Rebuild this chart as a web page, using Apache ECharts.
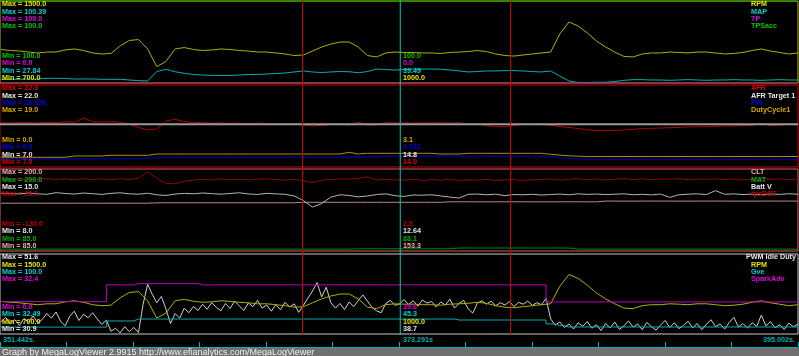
<!DOCTYPE html>
<html><head><meta charset="utf-8">
<script src="https://cdn.jsdelivr.net/npm/echarts@6/dist/echarts.min.js"></script>
<style>html,body{margin:0;padding:0;background:#000;}#c{width:799px;height:356px;}</style>
</head><body><div id="c"></div>
<script>
// ---------- time ----------
const tStart = 351.442, tEnd = 395.002, tCursor = 373.291;
const tMarkers = [367.955, 379.31];
const tFlat = [351.442, 395.002];
const timeFine = [351.5,351.75,352,352.25,352.5,352.75,353,353.25,353.5,353.75,354,354.25,354.5,354.75,355,355.25,355.5,355.75,356,356.25,356.5,356.75,357,357.25,357.5,357.75,358,358.25,358.5,358.75,359,359.25,359.5,359.75,360,360.25,360.5,360.75,361,361.25,361.5,361.75,362,362.25,362.5,362.75,363,363.25,363.5,363.75,364,364.25,364.5,364.75,365,365.25,365.5,365.75,366,366.25,366.5,366.75,367,367.25,367.5,367.75,368,368.25,368.5,368.75,369,369.25,369.5,369.75,370,370.25,370.5,370.75,371,371.25,371.5,371.75,372,372.25,372.5,372.75,373,373.25,373.5,373.75,374,374.25,374.5,374.75,375,375.25,375.5,375.75,376,376.25,376.5,376.75,377,377.25,377.5,377.75,378,378.25,378.5,378.75,379,379.25,379.5,379.75,380,380.25,380.5,380.75,381,381.25,381.5,381.75,382,382.25,382.5,382.75,383,383.25,383.5,383.75,384,384.25,384.5,384.75,385,385.25,385.5,385.75,386,386.25,386.5,386.75,387,387.25,387.5,387.75,388,388.25,388.5,388.75,389,389.25,389.5,389.75,390,390.25,390.5,390.75,391,391.25,391.5,391.75,392,392.25,392.5,392.75,393,393.25,393.5,393.75,394,394.25,394.5,394.75,395];
const timeCoarse = timeFine.filter((_, i) => i % 2 === 0);

// ---------- panel 1 ----------
const rpm = [1027,1017,1012,1002,993,1002,1002,1022,1032,1017,
 993,983,988,1061,1115,1124,1032,860,910,1032,
 1046,1027,1017,1022,1032,1027,1017,1012,1002,1002,
 993,983,968,973,1012,1051,1080,1100,1100,1051,
 968,954,993,1002,998,998,993,993,988,998,
 1002,1007,1017,1007,983,968,963,973,983,993,
 1002,1178,1295,1256,1188,1110,1051,1002,959,954,
 983,993,993,1002,998,993,1002,1002,993,983,
 988,998,1017,1032,1012,998,983,993];
const map = [31.1,31.1,31.1,31.4,31.4,32.0,32.0,31.8,31.4,31.4,
 31.4,31.1,31.1,31.1,30.5,29.9,29.6,38.0,40.0,37.8,
 36.4,35.4,34.9,34.6,34.5,34.5,34.9,35.4,35.4,35.8,
 36.2,36.7,37.6,38.5,37.6,37.1,37.6,38.0,37.8,36.9,
 38.0,40.2,39.8,39.3,39.8,40.2,40.2,40.2,40.0,39.3,
 38.5,37.6,38.0,38.5,38.5,38.8,38.8,38.5,38.0,37.6,
 38.5,34.0,29.6,28.3,28.3,28.5,28.5,29.2,30.2,30.8,
 30.8,30.5,30.5,30.2,30.5,30.8,30.5,30.2,30.5,30.5,
 30.8,30.5,30.5,30.2,30.5,30.8,30.5,30.5];
const tp = [0, 0];
const tpsAcc = [100, 100];

// ---------- panel 2 ----------
const afr = [15.10,15.01,15.14,15.10,15.05,15.18,15.10,15.29,15.18,15.96,
 15.29,15.23,15.29,15.18,14.81,14.26,13.77,13.95,15.41,15.73,
 15.29,15.18,15.10,14.99,15.10,14.96,15.05,14.92,15.05,14.87,
 14.96,14.81,14.87,14.68,14.50,14.59,14.77,14.87,14.68,15.18,
 14.68,14.74,15.10,15.05,15.10,14.99,15.10,15.05,15.10,14.99,
 15.10,14.81,14.87,14.55,14.37,14.37,14.63,14.81,14.74,14.81,
 14.63,14.41,14.23,14.04,13.83,13.64,13.71,13.64,13.77,13.90,
 14.01,14.08,14.13,14.19,14.26,14.32,14.37,14.37,14.45,14.50,
 14.50,14.55,14.63,14.99,14.55,14.68,14.81,14.74];
const afrTarget = [14.8, 14.8];
const pw = [2.87,2.87,2.87,2.87,2.87,2.87,2.87,2.87,2.87,2.87,
 2.87,2.87,2.87,2.87,2.87,2.87,2.87,3.40,3.40,3.40,
 3.40,3.40,3.40,3.40,3.40,3.40,3.40,3.40,3.40,3.40,
 3.40,3.40,3.40,3.40,3.40,3.40,3.40,3.40,3.40,3.46,
 3.46,3.75,3.75,3.75,3.75,3.75,3.75,3.75,3.75,3.75,
 3.75,3.75,3.75,3.75,3.75,3.75,3.75,3.75,3.75,3.75,
 3.60,3.30,3.00,2.80,2.70,2.66,2.66,2.66,2.66,2.66,
 2.66,2.66,2.66,2.66,2.66,2.66,2.66,2.66,2.66,2.66,
 2.66,2.66,2.66,2.66,2.66,2.66,2.66,2.66];
const duty = [2.25,2.25,2.25,2.25,2.25,2.25,2.25,2.25,2.55,2.55,
 2.55,2.55,2.71,2.71,2.71,2.71,2.71,3.01,3.01,3.01,
 3.01,3.01,3.01,3.01,3.01,3.01,3.01,3.01,3.01,3.01,
 3.01,3.01,3.01,3.01,3.01,3.01,3.01,3.01,3.41,3.01,
 3.17,3.17,3.17,3.17,3.17,3.17,3.17,3.17,3.01,3.01,
 3.01,3.17,3.17,3.17,3.17,3.17,3.17,3.17,3.17,3.17,
 2.95,2.75,2.60,2.50,2.43,2.43,2.43,2.43,2.43,2.43,
 2.43,2.43,2.43,2.43,2.43,2.43,2.43,2.43,2.43,2.43,
 2.43,2.43,2.43,2.43,2.43,2.43,2.43,2.43];

// ---------- panel 3 ----------
const clt = [152.0,152.0,152.0,152.0,152.0,152.0,152.0,152.0,152.0,152.0,
 152.0,152.0,152.0,152.0,152.0,152.0,152.0,152.6,152.6,152.6,
 152.6,152.6,152.6,152.6,152.6,152.6,152.6,152.6,152.6,152.6,
 152.6,152.6,152.6,153.3,153.3,153.3,153.3,153.3,153.3,153.3,
 153.3,153.3,153.3,153.3,153.3,153.3,153.3,153.3,153.3,154.0,
 154.0,154.0,154.0,154.0,154.0,154.0,154.0,154.0,154.0,154.0,
 154.0,154.0,154.0,154.0,154.0,154.0,155.0,155.0,155.0,155.0,
 155.0,155.0,155.0,155.0,155.0,155.0,155.0,155.0,155.0,155.0,
 155.0,155.0,155.0,155.0,155.0,155.0,155.0,155.0];
const mat = [87.6,87.6,87.6,87.6,87.6,87.6,87.6,87.6,87.6,87.6,
 87.6,87.6,87.6,87.6,87.6,87.6,87.6,87.6,87.6,87.6,
 87.6,87.6,87.6,87.6,87.6,87.6,87.6,87.6,87.6,87.6,
 87.6,87.6,87.6,87.6,87.6,87.6,87.6,87.6,87.6,88.1,
 88.1,88.1,88.1,88.1,88.1,88.1,88.1,88.1,88.1,88.1,
 89.2,89.2,89.2,89.2,89.2,89.2,89.2,89.2,89.2,89.2,
 89.2,89.2,89.2,87.6,87.6,87.6,87.6,87.6,87.6,87.6,
 87.6,87.6,87.6,87.6,87.6,87.6,87.6,87.6,87.6,87.6,
 87.6,87.6,87.6,87.6,87.6,87.6,87.6,87.6];
const battV = [12.93,12.90,12.87,12.95,12.88,12.84,12.98,12.91,12.86,12.95,
 12.89,12.83,12.92,12.97,12.88,12.85,12.93,12.80,12.74,12.86,
 12.92,12.88,12.95,12.90,12.85,12.91,12.97,12.87,12.83,12.92,
 12.88,12.84,12.70,12.30,11.75,12.05,12.60,12.80,12.74,12.62,
 12.70,12.82,12.88,12.72,12.66,12.78,12.76,12.80,12.70,12.60,
 12.52,12.84,12.86,12.80,12.85,12.72,12.82,12.80,12.84,12.78,
 12.82,12.86,12.80,12.88,12.83,12.86,12.82,12.85,12.88,12.80,
 12.84,12.79,12.86,12.58,12.80,12.85,12.88,12.82,13.15,12.84,
 12.88,12.82,12.86,12.80,12.87,12.83,12.89,12.84];
const tpsDot = [4.3,3.1,4.8,2.6,3.9,5.2,3.4,4.5,2.9,5.0,
 3.6,4.4,2.8,4.9,3.3,6.0,17.5,6.0,-4.0,-4.5,
 0.5,2.5,3.8,2.4,4.6,3.0,4.1,2.7,3.9,4.8,
 3.2,2.5,3.6,1.0,-2.0,2.0,3.4,4.4,4.3,5.0,
 8.6,2.5,3.5,2.8,2.0,3.6,1.8,3.2,2.4,3.9,
 1.5,3.0,2.2,3.7,1.9,2.8,3.4,1.6,2.9,3.3,
 4.1,2.6,3.8,4.9,3.0,4.4,2.7,4.0,5.1,3.3,
 4.6,2.9,4.2,3.6,5.0,2.8,4.3,3.5,4.7,3.1,
 4.4,2.6,3.9,5.2,3.4,4.6,3.0,4.3];

// ---------- panel 4 ----------
const pwmIdle = [34.0,35.2,33.5,34.6,33.1,34.9,34.0,35.6,33.8,34.7,
 36.2,35.0,36.6,34.2,33.0,35.5,36.8,34.4,36.0,35.1,
 36.4,34.8,33.4,34.5,31.6,32.4,31.2,32.8,31.5,32.6,
 31.3,38.5,43.8,41.2,39.0,40.6,37.4,33.6,36.2,35.0,
 37.6,36.4,38.0,37.0,38.6,37.3,39.0,37.8,36.9,38.8,
 37.5,39.4,38.2,37.0,38.9,38.0,39.6,37.6,38.4,36.8,
 38.5,37.2,39.1,37.9,38.7,36.5,38.3,40.2,42.0,44.2,
 40.5,43.0,39.0,37.6,38.8,37.2,39.2,38.0,39.6,41.0,
 39.4,37.8,36.9,36.4,38.8,39.6,38.3,38.7,39.8,38.5,
 39.5,38.1,39.7,38.9,39.3,37.9,39.2,38.4,39.9,37.6,
 38.8,39.6,37.4,36.3,38.9,39.5,38.6,39.4,38.2,39.0,
 38.4,39.3,38.0,39.1,38.6,39.4,38.3,39.0,38.5,40.1,
 34.8,33.2,34.0,32.6,33.5,32.2,33.8,32.9,34.1,32.4,
 33.3,31.8,33.6,32.5,34.0,32.1,33.0,34.3,32.7,33.5,
 32.0,33.9,32.8,31.9,33.2,34.4,32.6,33.8,32.3,33.1,
 34.2,32.5,33.6,32.0,33.4,34.6,32.8,33.5,32.2,33.9,
 35.2,32.7,33.6,32.4,33.8,32.9,35.8,33.0,34.1,32.5,
 33.3,32.1,33.7,32.8,33.4];
const gve = [38.3,38.3,38.3,38.3,38.3,38.3,38.3,38.3,38.3,38.3,
 38.3,38.3,43.5,43.5,43.5,45.1,45.1,45.1,45.1,45.1,
 45.1,45.1,45.1,45.1,45.1,45.1,45.1,45.1,45.1,45.1,
 45.1,45.1,45.1,45.1,45.1,45.1,45.1,45.1,45.1,45.1,
 45.1,45.1,45.1,45.1,45.1,45.1,45.1,45.1,45.1,45.1,
 44.3,44.3,44.3,44.3,44.3,44.3,44.3,44.3,44.3,44.3,
 41.0,39.5,38.4,38.4,38.4,38.4,38.4,38.4,38.4,38.4,
 38.4,38.4,38.4,38.4,38.4,38.4,38.4,38.4,38.4,38.4,
 38.4,38.4,38.4,38.4,38.4,38.4,38.4,38.4];
const sparkAdv = [13.1,13.1,13.1,13.1,13.1,13.1,13.1,13.1,13.1,13.1,
 13.1,13.1,19.9,19.9,19.9,20.4,20.4,20.4,20.4,20.4,
 20.4,20.4,19.9,19.9,19.9,19.9,19.9,19.9,19.9,19.9,
 19.9,19.9,19.9,19.9,19.9,19.9,19.9,19.9,19.9,19.9,
 19.9,19.9,19.9,19.9,19.9,19.9,19.9,19.9,19.9,19.9,
 19.9,19.9,19.9,19.9,19.9,19.9,19.9,19.9,19.9,19.9,
 13.0,13.0,13.0,13.0,13.0,13.0,13.0,13.0,13.0,13.0,
 13.0,13.0,13.0,13.0,13.0,13.0,13.0,13.0,13.0,13.0,
 13.0,13.0,13.0,13.0,13.0,13.0,13.0,13.0];

// ---------- texts ----------
const legendNames = [['RPM','MAP','TP','TPSacc'],['AFR','AFR Target 1','PW','DutyCycle1'],['CLT','MAT','Batt V','tpsDOT'],['PWM Idle Duty','RPM','Gve','SparkAdv']];
const maxTexts = [['1500.0','100.39','100.0','100.0'],['22.0','22.0','28.336','19.0'],['200.0','200.0','15.0','23.0'],['51.6','1500.0','100.0','32.4']];
const minTexts = [['700.0','27.84','0.0','100.0'],['7.0','7.0','0.0','0.0'],['85.0','85.0','8.0','-130.0'],['30.9','700.0','32.49','0.0']];
const cursorTexts = [['1000.0','39.49','0.0','100.0'],['14.9','14.8','3.721','3.1'],['153.3','88.1','12.64','2.0'],['38.7','1000.0','45.3','19.6']];
const timeLabels = ['351.442s.','373.291s','395.002s.'];
const footer = 'Graph by MegaLogViewer 2.9915 http://www.efianalytics.com/MegaLogViewer';

// ---------- layout / style ----------
const C = {
  yel:  {line:'#b0b000', text:'#e6e600'},
  cyan: {line:'#00b0b0', text:'#00d4d4'},
  mag:  {line:'#c000c0', text:'#e000e0'},
  grn:  {line:'#00c000', text:'#00c800'},
  red:  {line:'#b40000', text:'#e00000'},
  wht:  {line:'#9a9a9a', text:'#e6e6e6'},
  blu:  {line:'#0000c8', text:'#0000e8'},
  gold: {line:'#b08c00', text:'#d8a800'},
  pink: {line:'#c08888', text:'#f0a8a8'},
  mgrn: {line:'#008c00', text:'#00b000'},
  bat:  {line:'#b4b4b4', text:'#e6e6e6'},
  dred: {line:'#980000', text:'#c00000'},
  pwm:  {line:'#d0d0d0', text:'#e6e6e6'}
};
const panels = [
  {top:1, height:82, border:'#b8b800', s:[
    {t:timeCoarse, v:rpm, min:700, max:1500, c:C.yel},
    {t:timeCoarse, v:map, min:27.84, max:100.39, c:C.cyan},
    {t:tFlat, v:tp, min:0, max:100, c:C.mag},
    {t:tFlat, v:tpsAcc, min:0, max:100, c:C.grn}]},
  {top:85, height:82, border:'#c80000', s:[
    {t:timeCoarse, v:afr, min:7, max:22, c:C.red},
    {t:tFlat, v:afrTarget, min:7, max:22, c:C.wht, w:2},
    {t:timeCoarse, v:pw, min:0, max:28.336, c:C.blu},
    {t:timeCoarse, v:duty, min:0, max:19, c:C.gold}]},
  {top:169, height:82, border:'#d06060', s:[
    {t:timeCoarse, v:clt, min:85, max:200, c:C.pink},
    {t:timeCoarse, v:mat, min:85, max:200, c:C.mgrn},
    {t:timeCoarse, v:battV, min:8, max:15, c:C.bat},
    {t:timeCoarse, v:tpsDot, min:-130, max:23, c:C.dred}]},
  {top:254, height:80, border:'#c8c8c8', s:[
    {t:timeFine, v:pwmIdle, min:30.9, max:51.6, c:C.pwm},
    {t:timeCoarse, v:rpm, min:700, max:1500, c:C.yel},
    {t:timeCoarse, v:gve, min:32.49, max:100, c:C.cyan, step:'middle'},
    {t:timeCoarse, v:sparkAdv, min:0, max:32.4, c:C.mag, step:'middle'}]}
];
const FONT = 'bold 7.2px "Liberation Sans", Arial, sans-serif';
const FOOT_FONT = '9px "Liberation Sans", Arial, sans-serif';
const LH = 7.4;

const grids = [], xAxes = [], yAxes = [], series = [], elements = [];
function txt(text, x, y, fill, font) {
  elements.push({type:'text', silent:true, z:100,
    style:{text, x, y, fill, font:font||FONT, textAlign:'left', textVerticalAlign:'middle'}});
}
panels.forEach((p, pi) => {
  grids.push({left:0, right:1, top:p.top, height:p.height, show:true, borderColor:p.border, borderWidth:1, backgroundColor:'transparent'});
  xAxes.push({type:'value', gridIndex:pi, min:tStart, max:tEnd, show:false});
  p.s.forEach((s, si) => {
    const yi = yAxes.length;
    yAxes.push({type:'value', gridIndex:pi, min:s.min, max:s.max, show:false});
    series.push({type:'line', xAxisIndex:pi, yAxisIndex:yi, silent:true, symbol:'none', showSymbol:false,
      step:s.step||false, data:s.t.map((t,k)=>[t, s.v[k]]),
      lineStyle:{color:s.c.line, width:s.w||1}, z:2+si, animation:false});
  });
  const top = p.top, bottom = p.top + p.height;
  p.s.forEach((s, si) => {
    const y = top + 3.3 + si * LH;
    txt('Max = ' + maxTexts[pi][si], 2, y, s.c.text);
    txt(legendNames[pi][si], (pi === 3 && si === 0) ? 746 : 751, y, s.c.text);
  });
  p.s.forEach((s, si) => {
    const y = bottom - 5 - si * LH;
    txt('Min = ' + minTexts[pi][si], 2, y, s.c.text);
    txt(cursorTexts[pi][si], 403, y, s.c.text);
  });
});
// time strip
grids.push({left:0, right:1, top:336, height:11, show:false});
xAxes.push({type:'value', gridIndex:4, min:0, max:12, interval:1, position:'bottom',
  axisLine:{show:true, lineStyle:{color:'#00b4b4', width:1}},
  axisTick:{show:true, inside:true, length:5, lineStyle:{color:'#00b4b4'}},
  axisLabel:{show:false}, splitLine:{show:false}});
yAxes.push({type:'value', gridIndex:4, min:0, max:1, show:false});
// cursor overlay spanning all panels
grids.push({left:0, right:1, top:0, height:335, show:false});
xAxes.push({type:'value', gridIndex:5, min:tStart, max:tEnd, show:false});
yAxes.push({type:'value', gridIndex:5, min:0, max:1, show:false});
const cursorDefs = [[tMarkers[0], '#d00000'], [tMarkers[1], '#d00000'], [tCursor, '#00c8c8']];
cursorDefs.forEach(([t, col]) => {
  series.push({type:'line', xAxisIndex:5, yAxisIndex:yAxes.length-1, silent:true, symbol:'none',
    data:[[t, 0], [t, 1]], lineStyle:{color:col, width:1}, z:20, animation:false});
});
txt(timeLabels[0], 3, 340.5, '#00b4b4');
txt(timeLabels[1], 403, 340.5, '#00b4b4');
txt(timeLabels[2], 763, 340.5, '#00b4b4');
elements.push({type:'rect', silent:true, z:50, shape:{x:0, y:348, width:799, height:8}, style:{fill:'#707070'}});
txt(footer, 2, 352.5, '#f0f0f0', FOOT_FONT);

const chart = echarts.init(document.getElementById('c'));
chart.setOption({
  backgroundColor:'#000', animation:false,
  grid:grids, xAxis:xAxes, yAxis:yAxes, series, graphic:{elements}
});
</script></body></html>
